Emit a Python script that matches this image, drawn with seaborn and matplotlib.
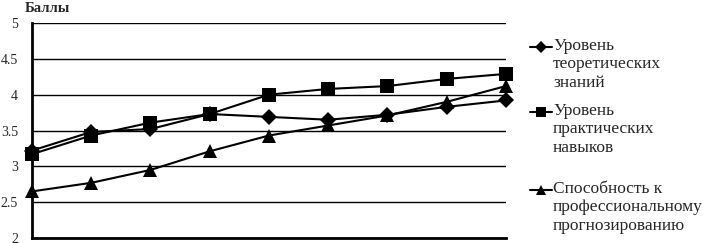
import matplotlib
matplotlib.use('Agg')
import matplotlib.pyplot as plt
from matplotlib.lines import Line2D
import numpy as np
import pandas as pd
import seaborn as sns

# measurement points (no labels on the x axis in the original)
points = list(range(1, 10))
theory = [3.22, 3.48, 3.52, 3.73, 3.69, 3.65, 3.72, 3.83, 3.92]
practice = [3.17, 3.43, 3.61, 3.73, 4.00, 4.08, 4.12, 4.22, 4.29]
forecast = [2.65, 2.77, 2.95, 3.21, 3.43, 3.57, 3.71, 3.90, 4.12]
names = ["Уровень\nтеоретических\nзнаний",
         "Уровень\nпрактических\nнавыков",
         "Способность к\nпрофессиональному\nпрогнозированию"]
yticks = [2, 2.5, 3, 3.5, 4, 4.5, 5]

df = pd.DataFrame({
    "x": points * 3,
    "y": theory + practice + forecast,
    "s": [names[0]] * 9 + [names[1]] * 9 + [names[2]] * 9,
})

sns.set_style("white")
plt.rcParams['font.family'] = ['Liberation Serif', 'DejaVu Serif']

W, H = 707, 243
fig = plt.figure(figsize=(W / 100, H / 100), dpi=100)
ax = fig.add_axes([32 / W, 5 / H, 474 / W, 215 / H])

marks = {names[0]: "D", names[1]: "s", names[2]: "^"}
sizes = {names[0]: 8, names[1]: 9.5, names[2]: 9.5}
for n in names:
    sub = df[df.s == n]
    sns.lineplot(data=sub, x="x", y="y", ax=ax, color="black", lw=1.5,
                 marker=marks[n], markersize=sizes[n], markeredgewidth=0,
                 legend=False, zorder=3, clip_on=False)

ax.set_xlim(1, 9)
ax.set_ylim(2, 5)
ax.set_xticks(points)
ax.set_xticklabels([])
ax.set_yticks(yticks)
ax.set_yticklabels([f"{v:g}" for v in yticks], fontsize=10)
ax.yaxis.grid(True, color="black", lw=1)
ax.xaxis.grid(False)
ax.set_xlabel("")
ax.set_ylabel("")
for sp in ["top", "right"]:
    ax.spines[sp].set_visible(False)
for sp in ["left", "bottom"]:
    ax.spines[sp].set_color("black")
    ax.spines[sp].set_linewidth(2)
ax.tick_params(axis="both", direction="out", length=4, width=1.2, color="black")
ax.tick_params(axis="y", pad=6)
ax.tick_params(axis="x", length=5)
for lab in ax.get_yticklabels():
    lab.set_verticalalignment("center_baseline")

fig.text(25 / W, 1 - 8 / H, "Баллы", fontsize=10.5, fontweight="bold",
         va="center", ha="left")

# legend built by hand so the marker sits at the first text line
tops = [47, 112, 190]
for n, t in zip(names, tops):
    yc = 1 - t / H
    fig.add_artist(Line2D([530 / W, 552 / W], [yc, yc], transform=fig.transFigure,
                          color="black", lw=1.5))
    fig.add_artist(Line2D([541 / W], [yc], transform=fig.transFigure, color="black",
                          marker=marks[n], markersize=sizes[n] * 0.75, markeredgewidth=0))
    fig.text(553 / W, 1 - (t - 9) / H, n, fontsize=12.5, va="top", ha="left",
             linespacing=1.2, transform=fig.transFigure)

fig.savefig("out.png", dpi=100)
